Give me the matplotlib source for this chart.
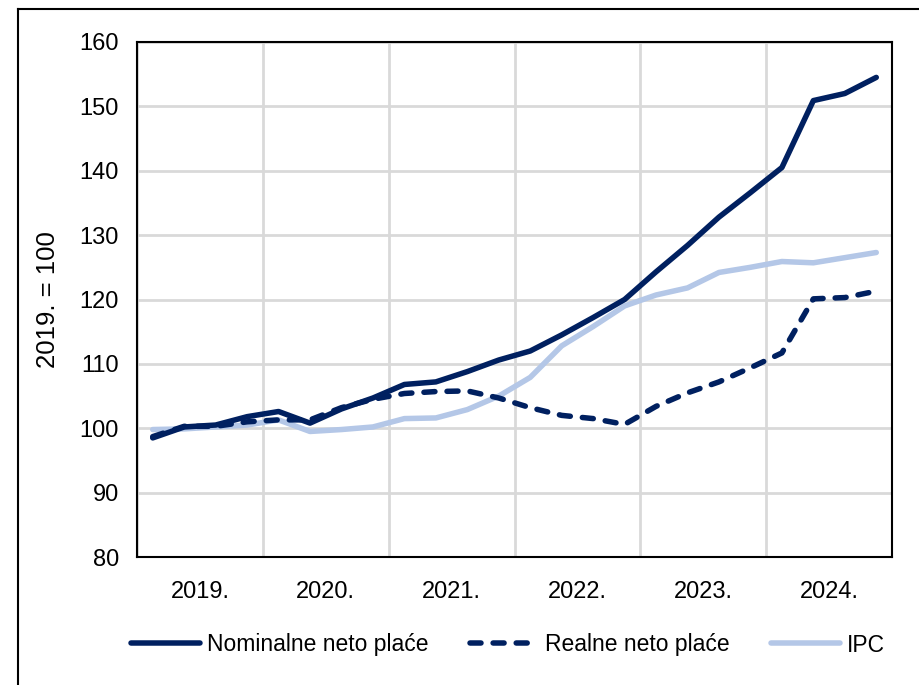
import matplotlib
matplotlib.use("Agg")
import matplotlib.pyplot as plt
from matplotlib.lines import Line2D
import numpy as np

# quarterly index values, 2019 Q1 .. 2024 Q4 (2019. = 100)
years = ["2019.", "2020.", "2021.", "2022.", "2023.", "2024."]
nominal = [98.5, 100.2, 100.5, 101.8, 102.6, 100.8, 103.0, 104.7,
           106.8, 107.2, 108.8, 110.6, 112.0, 114.5, 117.2, 120.0,
           124.3, 128.4, 132.8, 136.6, 140.5, 150.9, 152.0, 154.5]
real = [98.7, 100.3, 100.3, 101.0, 101.3, 101.3, 103.2, 104.5,
        105.4, 105.7, 105.8, 104.7, 103.2, 102.0, 101.5, 100.6,
        103.4, 105.5, 107.2, 109.4, 111.7, 120.1, 120.3, 121.3]
ipc = [99.8, 99.9, 100.2, 100.5, 101.3, 99.5, 99.8, 100.2,
       101.5, 101.6, 102.9, 105.0, 107.9, 112.8, 115.8, 119.0,
       120.7, 121.8, 124.2, 125.0, 125.9, 125.7, 126.5, 127.3]
labels = ["Nominalne neto plaće", "Realne neto plaće", "IPC"]

navy = "#002060"
light = "#B4C7E7"

plt.rcParams['font.family'] = ['Liberation Sans', 'DejaVu Sans']

fig = plt.figure(figsize=(9.19, 6.85), dpi=100)
ax = fig.add_axes([137/919, 1 - 557/685, (892-137)/919, (557-42)/685])

x = np.arange(len(nominal))
lw = 5.5 * 72 / 100
dash = (0, (2.0, 2.2))
ax.plot(x, ipc, color=light, lw=lw, solid_capstyle='round', solid_joinstyle='round', zorder=3)
ax.plot(x, real, color=navy, lw=lw, ls=dash, dash_capstyle='round', zorder=4)
ax.plot(x, nominal, color=navy, lw=lw, solid_capstyle='round', solid_joinstyle='round', zorder=5)

ax.set_xlim(-0.5, len(nominal) - 0.5)
ax.set_ylim(80, 160)
ax.set_yticks(np.arange(80, 161, 10))
ax.set_xticks(np.arange(len(years)) * 4 + 1.5)
ax.set_xticklabels(years)
ax.set_xticks(np.arange(len(years) + 1) * 4 - 0.5, minor=True)
ax.tick_params(axis='both', which='both', length=0, labelsize=17)
ax.tick_params(axis='y', pad=13)
ax.tick_params(axis='x', pad=17)
ax.grid(True, axis='y', which='major', color='#D9D9D9', lw=2)
ax.grid(True, axis='x', which='minor', color='#D9D9D9', lw=2)
ax.set_axisbelow(True)
for s in ax.spines.values():
    s.set_color('black')
    s.set_linewidth(1.5)
ax.set_ylabel("2019. = 100", fontsize=18.5, labelpad=14)

handles = [Line2D([], [], color=navy, lw=lw, solid_capstyle='round'),
           Line2D([], [], color=navy, lw=lw, ls=dash, dash_capstyle='round'),
           Line2D([], [], color=light, lw=lw, solid_capstyle='round')]
fig.legend(handles, labels, loc='center', bbox_to_anchor=(508/919, 1 - 645/685),
           ncol=3, frameon=False, fontsize=16.5, handlelength=3.0,
           handletextpad=0.3, columnspacing=1.8)

# outer frame (top and left edges visible)
fig.add_artist(Line2D([18/919, 1], [1 - 9/685, 1 - 9/685], color='black', lw=1.5,
                      transform=fig.transFigure))
fig.add_artist(Line2D([18/919, 18/919], [0, 1 - 9/685], color='black', lw=1.5,
                      transform=fig.transFigure))

fig.savefig("out.png", dpi=100)
